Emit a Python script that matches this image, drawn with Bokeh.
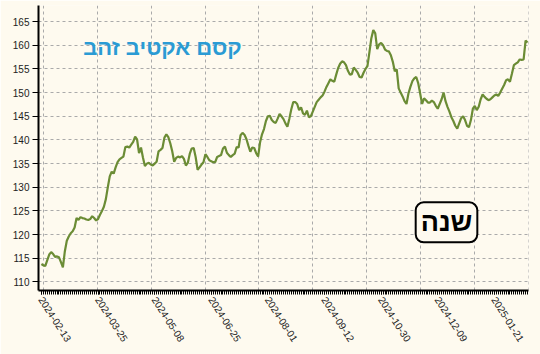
import numpy as np
from bokeh.plotting import figure
from bokeh.models import FixedTicker, Range1d, Label
from bokeh.embed import file_html
from bokeh.resources import INLINE

tick_dates = ["2024-02-13", "2024-03-25", "2024-05-08", "2024-06-25", "2024-08-01",
              "2024-09-12", "2024-10-30", "2024-12-09", "2025-01-21"]
tick_step = 29

values = [
    113.8, 113.5, 113.4, 114.6, 115.8, 116.3, 115.9, 115.3, 115.4, 115.2,
    114.2, 113.1, 116.5, 118.7, 119.6, 120.3, 120.7, 121.5, 123.5, 123.1,
    123.7, 123.5, 123.4, 123.2, 123.1, 123.3, 123.9, 123.5, 123.0, 123.3,
    124.2, 125.0, 125.9, 127.5, 130.0, 132.3, 133.3, 132.9, 134.2, 135.3,
    135.9, 136.2, 136.5, 138.5, 138.6, 138.4, 139.0, 139.6, 140.7, 140.1,
    137.2, 138.4, 136.3, 134.5, 135.0, 135.2, 134.8, 134.6, 135.0, 135.4,
    137.6, 137.9, 138.3, 140.5, 141.2, 140.6, 139.3, 137.6, 135.4, 136.2,
    136.5, 136.3, 136.6, 136.0, 134.6, 135.2, 137.1, 138.2, 138.3, 136.4,
    133.7, 134.2, 134.8, 135.3, 137.0, 136.4, 135.7, 135.5, 135.3, 135.3,
    136.4, 136.6, 136.8, 138.2, 138.6, 137.3, 136.8, 136.4, 136.8, 137.1,
    138.5, 138.4, 141.0, 141.5, 141.1, 140.2, 138.8, 137.5, 138.4, 138.3,
    137.2, 136.5, 139.5, 141.2, 142.3, 144.0, 145.0, 145.1, 144.2, 143.8,
    143.6, 144.5, 145.5, 145.0, 144.4, 143.5, 142.8, 144.5, 146.5, 148.0,
    148.0, 147.6, 146.3, 146.9, 145.6, 145.3, 146.2, 144.8, 145.0, 146.0,
    147.0, 148.0, 148.5, 149.0, 149.4, 150.2, 151.2, 152.0, 152.8, 152.5,
    152.3, 153.8, 155.2, 156.1, 156.6, 156.4, 155.8, 154.6, 153.8, 153.9,
    155.3, 154.8, 154.2, 153.3, 153.2, 154.2, 155.0, 155.6, 158.5, 161.5,
    163.2, 162.5, 159.2, 160.2, 160.5, 160.0, 159.1, 158.8, 158.7, 157.9,
    156.5, 154.5, 154.9, 150.9, 150.0, 149.2, 148.2, 147.6, 149.8, 151.2,
    152.4, 153.0, 153.3, 152.0, 149.8, 147.6, 148.8, 148.4, 147.9, 147.9,
    148.3, 148.0, 147.2, 146.6, 147.6, 148.6, 150.0, 148.2, 147.0, 146.0,
    144.8, 144.0, 143.0, 142.4, 143.5, 144.6, 145.0, 144.2, 143.0, 142.7,
    144.2, 146.6, 147.2, 146.3, 147.0, 148.6, 149.6, 149.1, 148.7, 148.4,
    148.6, 149.0, 149.4, 149.6, 149.3, 150.0, 150.8, 151.6, 152.6, 152.8,
    152.3, 154.0, 155.8, 156.1, 156.4, 157.0, 156.9, 157.0, 161.0, 160.6,
]
y_ticks = list(range(110, 170, 5))
title_text = "קסם אקטיב זהב"
period_text = "שנה"

n = len(values)
xs = list(range(n))
bg = "#fefaef"

p = figure(width=540, height=354, output_backend="svg", toolbar_location=None,
           x_range=Range1d(-1.5, n - 0.5), y_range=Range1d(108.2, 168.4),
           min_border_left=38, min_border_right=12, min_border_top=5, min_border_bottom=64,
           background_fill_color=bg, border_fill_color=bg)
p.outline_line_color = None

p.line(xs, values, line_color="#6b8c35", line_width=2.2)

label_idx = [i * tick_step for i in range(len(tick_dates))]
p.xaxis.ticker = FixedTicker(ticks=label_idx, minor_ticks=xs)
p.xaxis.major_label_overrides = {i: d for i, d in zip(label_idx, tick_dates)}
p.xaxis.major_label_orientation = -1.0
p.xaxis.major_label_text_font = "Liberation Sans"
p.xaxis.major_label_text_font_size = "10px"
p.xaxis.major_label_text_color = "#222222"
p.xaxis.major_tick_out = 4
p.xaxis.major_tick_in = 0
p.xaxis.minor_tick_out = 4
p.xaxis.minor_tick_in = 0
p.xaxis.axis_line_width = 2
p.xaxis.major_label_standoff = 3

p.yaxis.ticker = FixedTicker(ticks=y_ticks)
p.yaxis.major_label_text_font = "Liberation Sans"
p.yaxis.major_label_text_font_size = "10px"
p.yaxis.major_label_text_color = "#222222"
p.yaxis.major_tick_out = 6
p.yaxis.major_tick_in = 0
p.yaxis.minor_tick_line_color = None
p.yaxis.axis_line_width = 2
p.yaxis.major_label_standoff = 3

p.xgrid.ticker = FixedTicker(ticks=list(np.linspace(1, 249.4, 10)))
for g in (p.xgrid, p.ygrid):
    g.grid_line_color = "#aaaaaa"
    g.grid_line_dash = "3 3"
    g.grid_line_width = 1

p.add_layout(Label(x=62, y=159.5, text=title_text, text_align="center", text_baseline="middle",
                   text_font="Liberation Sans", text_font_style="bold", text_font_size="22px",
                   text_color="#2a9bd4"))
p.add_layout(Label(x=207.5, y=122.6, text=period_text, text_align="center", text_baseline="middle",
                   text_font="Liberation Sans", text_font_style="bold", text_font_size="27px",
                   text_color="#000000", background_fill_color=bg,
                   border_line_color="#000000", border_line_width=2, padding=5, border_radius=8))

open("out.html", "w").write(file_html(p, INLINE))
